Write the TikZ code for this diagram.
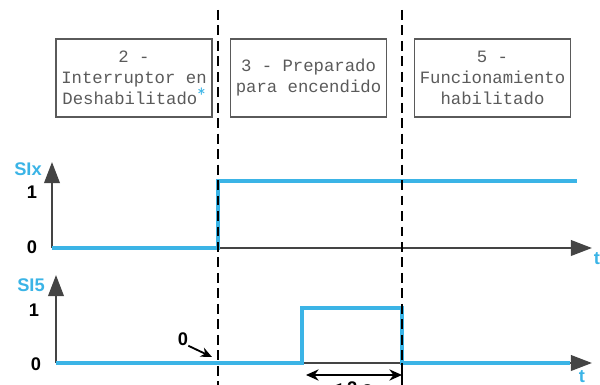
\documentclass[tikz,border=0pt]{standalone}
\usepackage{xcolor}
\usepackage{fontspec}
\setmainfont{Liberation Sans}
\setmonofont{Liberation Mono}
\usetikzlibrary{arrows.meta, positioning}
\definecolor{signal}{RGB}{59,180,230}
\definecolor{axisgray}{RGB}{68,68,68}
\definecolor{boxgray}{RGB}{90,90,90}

\begin{document}
\begin{tikzpicture}[x=0.025cm, y=-0.025cm,
    statebox/.style={draw=boxgray, line width=1pt, rectangle, minimum width=3.9cm, minimum height=1.95cm,
        align=center, text=boxgray, inner sep=0pt, font=\ttfamily\fontsize{12.3}{14.9}\selectfont},
    axisline/.style={draw=axisgray, line width=1.7pt, -{Triangle[length=15pt, width=11pt]}},
    sigline/.style={draw=signal, line width=2.6pt, line join=miter},
    phase/.style={draw=black, line width=1.6pt, dash pattern=on 7pt off 4pt},
    siglabel/.style={text=signal, font=\bfseries\fontsize{13}{15}\selectfont, inner sep=0pt},
    levellabel/.style={text=black, font=\bfseries\fontsize{13}{15}\selectfont, inner sep=0pt}]
    \useasboundingbox (0,0) rectangle (600,385);

    % state boxes
    \node[statebox] (state2) at (134,78) {
        2 -\\
        Interruptor en\\
        Deshabilitado\raisebox{0.4ex}{\textcolor{signal}{\sffamily\fontsize{12}{12}\selectfont *}}
    };
    \node[statebox] (state3) at (308.5,78) {
        3 - Preparado\\
        para encendido
    };
    \node[statebox] (state5) at (492.5,78) {
        5 -\\
        Funcionamiento\\
        habilitado
    };

    % axes of SIx
    \coordinate (orig1) at (52,248);
    \coordinate (ytop1) at (52,162);
    \coordinate (xend1) at (592,248);
    \draw[axisline] (orig1) -- (ytop1);
    \draw[axisline] (orig1) -- (xend1);
    \node[siglabel] (six) at (28,169) {SIx};
    \node[levellabel] (six1) at (32,192) {1};
    \node[levellabel] (six0) at (32,247) {0};
    \node[siglabel] (tone) at (597,259) {t};
    \draw[sigline] (orig1) -- (218,248) -- (218,181) -- (577,181);

    % axes of SI5
    \coordinate (orig2) at (56,363);
    \coordinate (ytop2) at (56,275);
    \coordinate (xend2) at (592,363);
    \draw[axisline] (orig2) -- (ytop2);
    \draw[axisline] (orig2) -- (xend2);
    \node[siglabel] (sifive) at (31,285) {SI5};
    \node[levellabel] (sifive1) at (34,310) {1};
    \node[levellabel] (sifive0) at (36,364) {0};
    \node[siglabel] (ttwo) at (582,377) {t};
    \draw[sigline] (orig2) -- (302,363) -- (302,308) -- (402,308) -- (402,363) -- (570,363);

    % phase borders
    \coordinate (phase1top) at (218,10);
    \coordinate (phase1bot) at (218,392);
    \coordinate (phase2top) at (402,10);
    \coordinate (phase2bot) at (402,392);
    \draw[phase] (phase1top) -- (phase1bot);
    \draw[phase] (phase2top) -- (phase2bot);

    % pulse width
    \coordinate (pulsestart) at (306,375);
    \coordinate (pulseend) at (402,375);
    \draw[black, line width=1pt] (402,363) -- (402,381);
    \draw[black, line width=1.3pt, {Stealth[length=9pt, width=8pt]}-{Stealth[length=9pt, width=8pt]}] (pulsestart) -- (pulseend);
    \node[levellabel] (pulsetext) at (352,388) {< 2 s};

    % zero marker
    \node[levellabel] (zeromark) at (183,339) {0};
    \coordinate (zerotip) at (212,357);
    \draw[black, line width=1.3pt, -{Stealth[length=8pt, width=7pt]}] (zeromark.south east) -- (zerotip);
\end{tikzpicture}
\end{document}
